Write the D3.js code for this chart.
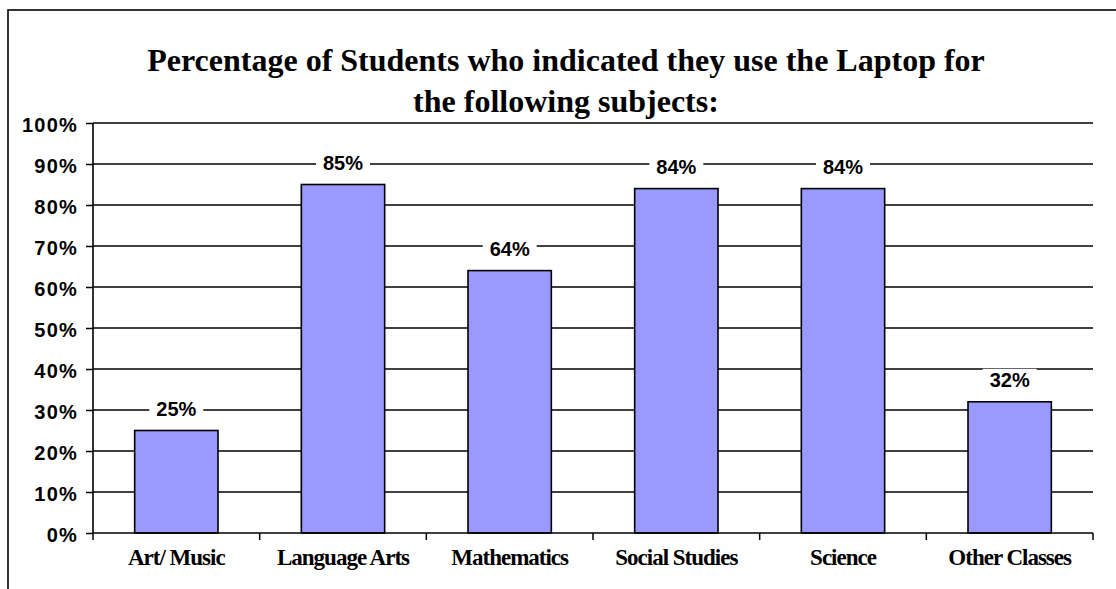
<!DOCTYPE html>
<html>
<head>
<meta charset="utf-8">
<script src="https://cdn.jsdelivr.net/npm/d3@7"></script>
<style>
  body { margin: 0; background: #fff; }
  svg { display: block; }
</style>
</head>
<body>
<div class="barchart"></div>
<script>
// DATA ------------------------------
const subjects = ["Art/ Music", "Language Arts", "Mathematics", "Social Studies", "Science", "Other Classes"];
const percents = [25, 85, 64, 84, 84, 32];
const yTicks = [0, 10, 20, 30, 40, 50, 60, 70, 80, 90, 100];
const titleLines = ["Percentage of Students who indicated they use the Laptop for", "the following subjects:"];

// CHART INIT ------------------------------
const W = 1116, H = 589;
const margin = ({top: 123, right: 23, bottom: 56, left: 93});
const width = W - margin.left - margin.right,
      height = H - margin.top - margin.bottom;

const root = d3.select(".barchart")
    .append("svg")
    .attr("width", W)
    .attr("height", H);

// outer frame (runs off the right/bottom of the picture)
root.append("rect")
    .attr("x", 8).attr("y", 10)
    .attr("width", 1300).attr("height", 800)
    .attr("fill", "none")
    .attr("stroke", "#000")
    .attr("stroke-width", 1.6);

// title
root.append("text")
    .attr("x", 566)
    .attr("font-family", "'Liberation Serif', 'Times New Roman', serif")
    .attr("font-weight", "bold")
    .attr("font-size", 32)
    .attr("text-anchor", "middle")
    .selectAll("tspan")
    .data(titleLines)
    .join("tspan")
    .attr("x", 566)
    .attr("y", (d, i) => 71 + i * 41)
    .text(d => d);

const svg = root.append("g")
    .attr("transform", `translate(${margin.left},${margin.top})`);

// scales
const xScale = d3.scaleBand()
    .domain(subjects)
    .range([0, width])
    .paddingInner(0.5)
    .paddingOuter(0.25);

const bandScale = d3.scaleBand()
    .domain(subjects)
    .range([0, width]);

const yScale = d3.scaleLinear()
    .domain([0, 100])
    .range([height, 0]);

// gridlines
svg.append("g")
    .selectAll("line")
    .data(yTicks.filter(d => d > 0))
    .join("line")
    .attr("x1", 0).attr("x2", width)
    .attr("y1", d => yScale(d)).attr("y2", d => yScale(d))
    .attr("stroke", "#000")
    .attr("stroke-width", 1.5);

// y axis
const yAxis = d3.axisLeft(yScale)
    .tickValues(yTicks)
    .tickFormat(d => d + "%")
    .tickSize(7)
    .tickPadding(8);

const yG = svg.append("g")
    .attr("class", "axis y-axis")
    .call(yAxis);
yG.select(".domain").attr("stroke-width", 1.6).attr("d", `M0,0V${height}`);
yG.selectAll(".tick line").attr("stroke-width", 1.5);
yG.selectAll(".tick text")
    .attr("font-family", "'Liberation Sans', Arial, sans-serif")
    .attr("font-weight", "bold")
    .attr("font-size", 20)
    .attr("letter-spacing", 1.2)
    .attr("fill", "#000")
    .attr("dy", "0.42em");

// bars
svg.selectAll("rect.bar")
    .data(percents)
    .join("rect")
    .attr("class", "bar")
    .attr("x", (d, i) => xScale(subjects[i]))
    .attr("y", d => yScale(d))
    .attr("width", xScale.bandwidth())
    .attr("height", d => height - yScale(d))
    .attr("fill", "#9999FF")
    .attr("stroke", "#000")
    .attr("stroke-width", 1.6);

// x axis (ticks between categories)
svg.append("g")
    .selectAll("line")
    .data(subjects.map((s, i) => i).concat([subjects.length]))
    .join("line")
    .attr("x1", i => i < subjects.length ? bandScale(subjects[i]) : width)
    .attr("x2", i => i < subjects.length ? bandScale(subjects[i]) : width)
    .attr("y1", height).attr("y2", height + 7)
    .attr("stroke", "#000")
    .attr("stroke-width", 1.5);

svg.append("line")
    .attr("x1", 0).attr("x2", width)
    .attr("y1", height).attr("y2", height)
    .attr("stroke", "#000")
    .attr("stroke-width", 1.6);

svg.append("g")
    .selectAll("text")
    .data(subjects)
    .join("text")
    .attr("x", d => xScale(d) + xScale.bandwidth() / 2)
    .attr("y", height + 32)
    .attr("text-anchor", "middle")
    .attr("font-family", "'Liberation Serif', 'Times New Roman', serif")
    .attr("font-weight", "bold")
    .attr("font-size", 23)
    .attr("letter-spacing", -1)
    .text(d => d);

// value labels with white background
const labels = svg.append("g")
    .selectAll("g")
    .data(percents)
    .join("g")
    .attr("transform", (d, i) => `translate(${xScale(subjects[i]) + xScale.bandwidth() / 2},${yScale(d) - 15})`);

labels.append("rect")
    .attr("x", -27).attr("y", -18)
    .attr("width", 54).attr("height", 22)
    .attr("fill", "#fff");

labels.append("text")
    .attr("text-anchor", "middle")
    .attr("font-family", "'Liberation Sans', Arial, sans-serif")
    .attr("font-weight", "bold")
    .attr("font-size", 20)
    .text(d => d + "%");
</script>
</body>
</html>
